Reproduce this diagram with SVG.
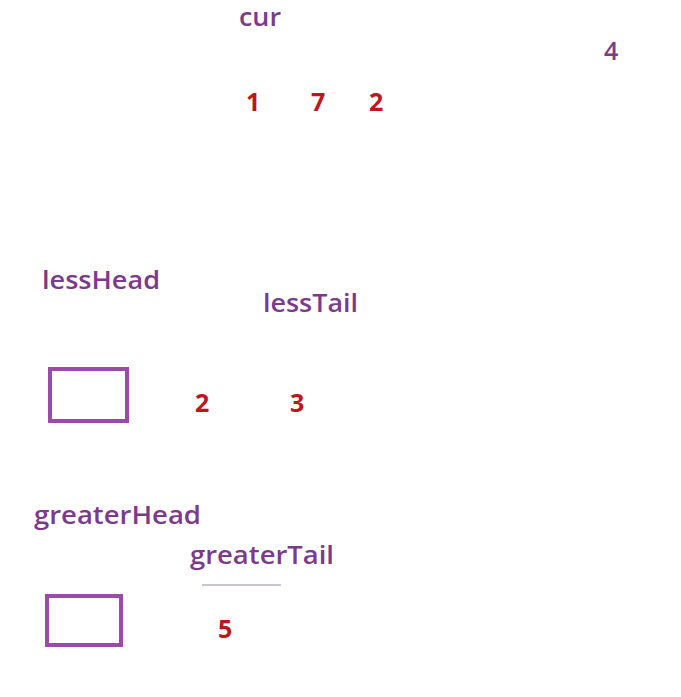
<svg xmlns="http://www.w3.org/2000/svg" width="681" height="697" viewBox="0 0 681 697">
<style>
.lbl{font-family:"Open Sans","Liberation Sans",sans-serif;font-weight:600;font-size:25px;fill:#7b3b8c}
.num{font-family:"Open Sans","Liberation Sans",sans-serif;font-weight:700;font-size:25px;fill:#c0141e}
.box{fill:#ffffff;stroke:#9a4aa8;stroke-width:4}
</style>
<rect width="681" height="697" fill="#ffffff"/>
<g id="cur"><text class="lbl" x="239" y="26" textLength="42" lengthAdjust="spacingAndGlyphs">cur</text></g>
<g id="n4"><text class="lbl" x="604" y="60">4</text></g>
<g id="n1"><text class="num" x="246" y="111">1</text></g>
<g id="n7"><text class="num" x="311" y="111">7</text></g>
<g id="n2a"><text class="num" x="369" y="111">2</text></g>
<g id="lessHead"><text class="lbl" x="42" y="289" textLength="118" lengthAdjust="spacingAndGlyphs">lessHead</text>
<rect class="box" x="50" y="369" width="77" height="52"/></g>
<g id="lessTail"><text class="lbl" x="263" y="312" textLength="95" lengthAdjust="spacingAndGlyphs">lessTail</text></g>
<g id="n2b"><text class="num" x="195" y="412">2</text></g>
<g id="n3"><text class="num" x="290" y="412">3</text></g>
<g id="greaterHead"><text class="lbl" x="34" y="524" textLength="167" lengthAdjust="spacingAndGlyphs">greaterHead</text>
<rect class="box" x="47" y="596" width="74" height="49"/></g>
<g id="greaterTail"><text class="lbl" x="190" y="564" textLength="144" lengthAdjust="spacingAndGlyphs">greaterTail</text></g>
<g id="connectors"><line x1="202" y1="585" x2="281" y2="585" stroke="#9a8aa6" stroke-width="1.2"/></g>
<g id="n5"><text class="num" x="218" y="638">5</text></g>
</svg>
